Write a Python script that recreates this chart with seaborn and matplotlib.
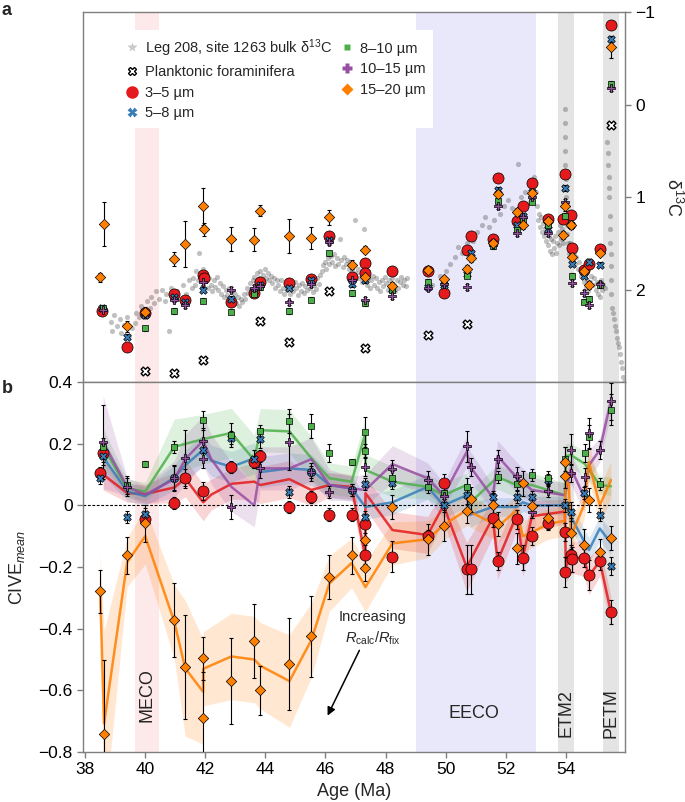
import numpy as np
import pandas as pd
import seaborn as sns
import matplotlib.pyplot as plt
from matplotlib.lines import Line2D

# ---------------- bulk d13C, Leg 208 site 1263 (age, d13C) ----------------
bulk_pts = [
    (38.85, 2.35), (38.9, 2.45), (38.95, 2.28), (39.05, 2.4), (39.15, 2.32), (39.2, 2.47), (39.3, 2.38),
    (39.4, 2.3), (39.45, 2.5), (39.55, 2.42), (39.65, 2.36), (39.7, 2.25), (39.8, 2.3), (39.85, 2.18),
    (39.9, 2.22), (40.0, 2.27), (40.05, 2.12), (40.15, 2.2), (40.2, 2.08), (40.3, 2.15), (40.35, 2.02),
    (40.45, 2.1), (40.55, 2.0), (40.65, 2.12), (40.7, 2.05), (40.8, 2.45), (40.85, 1.98), (40.95, 2.08),
    (41.05, 2.02), (41.15, 2.1), (41.25, 1.95), (41.35, 2.05), (41.45, 1.9), (41.55, 1.98), (41.6, 1.88),
    (41.65, 1.95), (41.7, 1.8), (41.75, 1.9), (41.8, 1.6), (41.82, 1.85), (41.88, 1.97), (41.92, 1.78),
    (41.97, 1.9), (42.02, 1.84), (42.08, 1.98), (42.12, 1.88), (42.18, 1.95), (42.22, 2.02), (42.28, 1.9),
    (42.32, 1.97), (42.38, 1.86), (42.42, 2.0), (42.48, 1.93), (42.52, 2.05), (42.58, 1.96), (42.62, 2.08),
    (42.68, 2.0), (42.72, 2.06), (42.78, 1.98), (42.82, 2.1), (42.88, 2.02), (42.92, 2.12), (42.98, 2.05),
    (43.02, 2.15), (43.08, 2.08), (43.12, 2.18), (43.18, 2.1), (43.22, 2.14), (43.28, 2.05), (43.32, 2.1),
    (43.38, 1.98), (43.42, 2.04), (43.48, 1.93), (43.52, 1.99), (43.58, 1.9), (43.62, 1.86), (43.68, 1.92),
    (43.72, 1.82), (43.78, 1.88), (43.82, 1.8), (43.88, 1.9), (43.92, 1.84), (43.98, 1.78), (44.02, 1.88),
    (44.08, 1.82), (44.12, 1.9), (44.18, 1.85), (44.22, 1.93), (44.28, 1.88), (44.32, 1.98), (44.38, 1.9),
    (44.42, 1.95), (44.48, 2.02), (44.52, 1.9), (44.58, 1.98), (44.62, 2.05), (44.68, 1.93), (44.72, 2.0),
    (44.78, 1.9), (44.82, 2.05), (44.88, 1.96), (44.92, 2.02), (44.98, 1.92), (45.02, 1.98), (45.08, 2.06),
    (45.12, 1.95), (45.18, 2.02), (45.22, 1.93), (45.28, 2.04), (45.32, 1.96), (45.38, 2.0), (45.42, 1.9),
    (45.48, 1.98), (45.52, 1.92), (45.58, 2.03), (45.62, 1.95), (45.68, 1.99), (45.72, 1.88), (45.78, 1.94),
    (45.82, 1.84), (45.88, 1.8), (45.92, 1.74), (45.98, 1.7), (46.02, 1.78), (46.08, 1.66), (46.12, 1.72),
    (46.18, 1.64), (46.22, 1.7), (46.28, 1.62), (46.32, 1.75), (46.38, 1.66), (46.42, 1.72), (46.48, 1.45),
    (46.52, 1.68), (46.58, 1.76), (46.62, 1.65), (46.68, 1.72), (46.72, 1.68), (46.78, 1.78), (46.82, 1.7),
    (46.88, 1.8), (46.92, 1.74), (46.98, 1.25), (47.02, 1.82), (47.08, 1.78), (47.12, 1.88), (47.18, 1.82),
    (47.22, 1.92), (47.28, 1.35), (47.32, 1.86), (47.38, 1.95), (47.42, 1.88), (47.48, 1.98), (47.52, 1.9),
    (47.58, 1.85), (47.62, 1.95), (47.68, 1.88), (47.72, 1.98), (47.78, 1.92), (47.82, 2.02), (47.88, 1.9),
    (47.92, 1.96), (47.98, 1.86), (48.02, 1.93), (48.08, 2.0), (48.12, 1.9), (48.18, 1.97), (48.22, 1.88),
    (48.28, 1.95), (48.32, 2.02), (48.38, 1.9), (48.42, 1.98), (48.48, 1.92), (48.52, 1.86), (48.58, 1.95),
    (48.62, 1.9), (48.68, 1.96), (48.72, 1.88), (49.55, 1.95), (49.8, 1.85), (50.0, 1.8), (50.15, 1.72),
    (50.3, 1.65), (50.4, 1.54), (50.55, 1.6), (50.7, 1.5), (50.9, 1.48), (51.05, 1.38), (51.2, 1.3),
    (51.3, 1.22), (51.45, 1.32), (51.6, 1.25), (51.8, 1.18), (51.95, 1.1), (52.07, 1.03), (52.2, 1.12),
    (52.4, 0.64), (52.5, 1.0), (52.65, 0.95), (52.8, 1.05), (52.93, 0.78), (53.0, 0.95), (53.03, 1.1),
    (53.07, 1.25), (53.1, 1.18), (53.13, 1.32), (53.17, 1.22), (53.2, 1.38), (53.23, 1.28), (53.27, 1.42),
    (53.3, 1.33), (53.33, 1.48), (53.37, 1.38), (53.4, 1.52), (53.43, 1.42), (53.47, 1.58), (53.5, 1.45),
    (53.53, 1.62), (53.57, 1.48), (53.6, 1.55), (53.63, 1.42), (53.67, 1.6), (53.7, 1.5), (53.73, 1.38),
    (53.77, 1.52), (53.8, 1.3), (53.83, 1.45), (53.87, 1.35), (53.9, 1.5), (53.96, 0.05), (53.97, 0.2),
    (53.97, 0.35), (53.98, 0.5), (53.98, 0.65), (53.99, 0.8), (54.0, 0.9), (54.0, 1.0), (54.01, 1.1),
    (54.02, 1.2), (54.03, 1.3), (54.05, 1.4), (54.07, 1.5), (54.1, 1.6), (54.13, 1.5), (54.17, 1.62),
    (54.2, 1.55), (54.23, 1.68), (54.27, 1.6), (54.3, 1.72), (54.35, 1.65), (54.4, 1.78), (54.45, 1.7),
    (54.5, 1.85), (54.55, 1.78), (54.6, 1.92), (54.63, 1.85), (54.67, 1.98), (54.7, 1.9), (54.75, 2.02),
    (54.8, 1.92), (54.85, 1.85), (54.9, 1.95), (54.95, 1.88), (55.0, 2.0), (55.03, 1.92), (55.07, 2.05),
    (55.1, 1.95), (55.13, 2.08), (55.17, 1.9), (55.2, 2.0), (55.25, 1.95), (55.3, 1.98), (55.38, 0.4),
    (55.4, 0.52), (55.42, 0.65), (55.43, 0.78), (55.44, 0.9), (55.45, 1.0), (55.46, 1.2), (55.47, 1.35),
    (55.48, 1.5), (55.49, 1.62), (55.5, 1.75), (55.51, 1.9), (55.52, 2.05), (55.54, 2.2), (55.57, 2.25),
    (55.6, 2.32), (55.63, 2.4), (55.66, 2.45), (55.7, 2.52), (55.73, 2.58), (55.76, 2.62), (55.8, 2.7),
    (55.83, 2.78), (55.86, 2.85), (55.9, 2.95), (55.93, 3.0),
]

# ---------------- panel a: coccolith d13C per size fraction ----------------
a_red_age = [38.55, 39.4, 40.0, 40.97, 41.33, 41.93, 41.95, 42.87, 43.63, 43.83, 44.8, 45.53, 46.13, 46.87,
             47.33, 47.33, 48.23, 49.4, 49.93, 50.7, 50.83, 51.57, 51.73, 52.37, 52.57, 52.87, 53.4, 53.9,
             53.97, 54.17, 54.2, 54.6, 54.77, 55.13, 55.5]
a_red_val = [2.23, 2.62, 2.25, 2.05, 2.11, 1.84, 1.88, 2.14, 2.04, 1.92, 1.93, 1.89, 1.42, 1.87, 1.71, 1.82,
             1.80, 1.80, 2.04, 1.57, 1.42, 1.45, 0.79, 1.26, 1.10, 0.85, 1.24, 1.24, 0.75, 1.19, 1.55, 1.79,
             1.72, 1.56, -0.86]

a_blue_age = [38.55, 39.4, 40.0, 40.97, 41.33, 41.93, 42.87, 43.63, 43.83, 44.8, 45.53, 46.13, 46.87, 47.33,
              48.23, 49.4, 49.93, 50.7, 50.83, 51.57, 51.73, 52.37, 52.57, 52.87, 53.4, 53.97, 54.17, 54.2,
              54.6, 54.77, 55.13, 55.5]
a_blue_val = [2.20, 2.51, 2.28, 2.08, 2.13, 2.00, 2.10, 2.02, 1.95, 1.98, 1.90, 1.47, 1.94, 1.90, 1.99, 1.97,
              1.95, 1.83, 1.60, 1.50, 0.92, 1.30, 1.20, 0.95, 1.35, 0.90, 1.30, 1.72, 1.85, 1.70, 1.73, -0.71]

a_green_age = [38.6, 40.0, 40.97, 41.93, 42.87, 43.63, 43.83, 44.8, 45.53, 46.13, 46.87, 47.33, 48.23, 49.4,
               49.93, 50.7, 51.57, 51.73, 52.37, 52.57, 52.87, 53.4, 53.97, 54.17, 54.2, 54.6, 54.77, 55.13,
               55.5]
a_green_val = [2.20, 2.42, 2.23, 2.12, 2.24, 2.05, 1.97, 2.23, 2.11, 1.61, 2.04, 2.15, 2.00, 1.92, 1.93, 1.85,
               1.53, 1.04, 1.36, 1.25, 1.05, 1.30, 1.20, 1.30, 1.85, 2.13, 2.10, 1.95, -0.22]

a_purple_age = [38.6, 40.0, 40.97, 41.33, 41.93, 42.87, 43.63, 43.83, 44.8, 45.53, 46.13, 46.87, 47.33, 48.23,
                49.4, 49.93, 50.7, 51.57, 51.73, 52.37, 52.57, 52.87, 53.4, 53.97, 54.2, 54.6, 54.77, 55.13,
                55.5]
a_purple_val = [2.22, 2.26, 2.11, 2.17, 1.92, 2.00, 1.98, 1.96, 2.14, 1.94, 1.49, 1.90, 2.11, 2.07, 1.98, 1.94,
                1.97, 1.52, 1.10, 1.39, 1.22, 1.00, 1.39, 1.05, 1.93, 2.04, 2.17, 1.94, -0.18]

a_orange_age = [38.5, 38.63, 39.4, 40.0, 40.97, 41.33, 41.93, 41.95, 42.87, 43.63, 43.83, 44.8, 45.53, 46.13,
                46.87, 47.33, 47.33, 48.23, 49.4, 49.93, 50.7, 50.83, 51.57, 51.73, 52.37, 52.57, 52.87, 53.4,
                53.9, 53.97, 54.17, 54.2, 54.6, 54.77, 55.13, 55.5]
a_orange_val = [1.87, 1.29, 2.40, 2.24, 1.67, 1.51, 1.10, 1.35, 1.45, 1.46, 1.15, 1.42, 1.44, 1.22, 1.73, 1.57,
                1.86, 1.96, 1.79, 1.89, 1.78, 1.66, 1.50, 0.97, 1.16, 1.30, 0.96, 1.26, 1.41, 1.10, 1.30, 1.65,
                1.80, 1.95, 1.60, -0.62]
a_orange_err = [0.05, 0.24, 0.06, 0.05, 0.08, 0.25, 0.20, 0.07, 0.13, 0.12, 0.06, 0.18, 0.12, 0.08, 0.05, 0.04,
                0.04, 0.04, 0.04, 0.04, 0.04, 0.04, 0.04, 0.05, 0.04, 0.05, 0.04, 0.04, 0.04, 0.05, 0.05, 0.04,
                0.04, 0.04, 0.04, 0.12]
a_small_err = 0.03

foram_age = [40.0, 40.97, 41.93, 43.83, 44.8, 46.13, 47.33, 49.4, 50.7, 55.5]
foram_val = [2.88, 2.90, 2.76, 2.34, 2.57, 2.02, 2.63, 2.49, 2.37, 0.22]

# ---------------- panel b: CIVE_mean samples ----------------
b_red_age = [38.5, 38.6, 40.0, 40.97, 41.33, 41.93, 42.87, 43.63, 43.83, 44.8, 45.53, 46.13, 46.87, 47.33, 47.33,
             48.23, 49.4, 49.93, 50.7, 50.83, 51.57, 51.73, 52.37, 52.57, 52.87, 53.4, 53.97, 53.97, 54.17, 54.2,
             54.6, 54.77, 55.13, 55.5]
b_red_val = [0.105, 0.17, -0.045, 0.007, 0.088, 0.047, 0.124, 0.14, 0.16, -0.005, 0.027, -0.03, -0.03, -0.06,
             -0.16, -0.167, -0.10, 0.072, -0.207, -0.207, -0.04, -0.18, -0.045, -0.17, -0.10, -0.057, -0.087,
             -0.216, -0.16, -0.175, -0.17, -0.226, -0.18, -0.346]
b_red_err = [0.02, 0.03, 0.02, 0.02, 0.03, 0.03, 0.02, 0.02, 0.02, 0.02, 0.02, 0.02, 0.02, 0.03, 0.03, 0.05,
             0.02, 0.03, 0.08, 0.08, 0.03, 0.03, 0.03, 0.04, 0.03, 0.02, 0.03, 0.05, 0.03, 0.04, 0.03, 0.05,
             0.03, 0.04]

b_blue_age = [38.5, 38.6, 39.4, 40.0, 40.97, 41.93, 42.87, 43.63, 43.83, 44.8, 45.53, 46.87, 47.33, 47.33, 48.23,
              49.93, 50.7, 51.57, 52.37, 52.87, 53.4, 53.97, 54.17, 54.6, 55.13, 55.5]
b_blue_val = [0.088, 0.16, -0.038, -0.028, 0.088, 0.18, 0.22, 0.15, 0.215, 0.044, 0.108, 0.05, 0.07, -0.037,
              0.072, 0.0, 0.033, 0.027, 0.027, 0.027, 0.082, 0.0, -0.02, 0.04, -0.03, -0.197]
b_blue_err = [0.02, 0.03, 0.02, 0.02, 0.04, 0.03, 0.02, 0.03, 0.03, 0.02, 0.02, 0.02, 0.02, 0.02, 0.02, 0.02,
              0.03, 0.02, 0.02, 0.02, 0.02, 0.02, 0.03, 0.02, 0.02, 0.03]

b_green_age = [38.6, 39.4, 40.0, 40.97, 41.93, 42.87, 43.83, 44.8, 45.53, 46.13, 46.87, 47.33, 47.33, 48.23,
               49.4, 49.93, 50.7, 51.73, 52.37, 52.87, 53.4, 53.97, 54.63, 54.77, 55.13, 55.5]
b_green_val = [0.19, 0.066, 0.134, 0.19, 0.276, 0.228, 0.24, 0.274, 0.258, 0.17, 0.14, 0.238, 0.178, 0.09, 0.06,
               0.04, 0.06, 0.092, 0.07, 0.098, 0.09, 0.15, 0.17, 0.222, 0.07, 0.31]
b_green_err = [0.03, 0.03, 0.01, 0.02, 0.03, 0.04, 0.02, 0.04, 0.04, 0.03, 0.01, 0.05, 0.02, 0.02, 0.02, 0.02,
               0.03, 0.02, 0.02, 0.02, 0.02, 0.04, 0.03, 0.04, 0.02, 0.05]

b_purple_age = [38.6, 39.4, 40.97, 41.33, 41.93, 41.93, 42.87, 43.83, 44.8, 45.53, 46.13, 46.87, 47.33, 48.23,
                49.4, 49.93, 50.7, 50.83, 51.73, 52.37, 52.87, 53.4, 54.17, 54.17, 54.63, 54.77, 55.13, 55.5]
b_purple_val = [0.205, 0.06, 0.09, 0.153, 0.21, 0.15, -0.005, 0.12, 0.205, 0.108, 0.044, 0.05, 0.125, 0.118,
                0.082, 0.03, 0.192, 0.124, 0.15, 0.095, -0.02, 0.047, 0.18, 0.105, 0.092, 0.235, 0.18, 0.338]
b_purple_err = [0.12, 0.03, 0.04, 0.09, 0.04, 0.03, 0.04, 0.03, 0.09, 0.03, 0.02, 0.02, 0.03, 0.03, 0.03, 0.02,
                0.05, 0.03, 0.03, 0.03, 0.02, 0.02, 0.05, 0.03, 0.03, 0.05, 0.03, 0.06]

b_orange_age = [38.5, 38.63, 39.4, 40.0, 40.97, 41.33, 41.93, 41.93, 42.87, 43.63, 43.83, 44.8, 45.53, 46.13,
                46.87, 47.33, 47.33, 48.23, 49.4, 49.93, 50.7, 50.83, 51.57, 51.73, 52.37, 52.57, 52.87, 53.4,
                53.97, 53.97, 54.17, 54.6, 54.77, 55.13, 55.5]
b_orange_val = [-0.278, -0.742, -0.161, -0.058, -0.372, -0.524, -0.496, -0.69, -0.57, -0.44, -0.60, -0.515,
                -0.425, -0.232, -0.162, -0.112, -0.204, -0.005, -0.11, -0.066, -0.017, 0.02, 0.0, -0.06, -0.139,
                0.072, -0.002, -0.04, 0.14, 0.095, -0.09, -0.128, 0.017, -0.15, -0.106]
b_orange_err = [0.07, 0.24, 0.06, 0.06, 0.12, 0.17, 0.07, 0.15, 0.14, 0.12, 0.08, 0.15, 0.13, 0.07, 0.06, 0.04,
                0.04, 0.04, 0.05, 0.05, 0.04, 0.04, 0.04, 0.04, 0.05, 0.04, 0.04, 0.04, 0.05, 0.04, 0.05, 0.05,
                0.04, 0.04, 0.04]

# ---------------- panel b: mean lines and envelopes ----------------
red_line_age = [38.6, 39.4, 40.0, 40.97, 41.33, 41.93, 42.2, 42.87, 43.63, 43.83, 44.8, 45.53, 46.13, 46.87,
                47.33, 47.33, 48.23, 49.4, 49.93, 50.7, 51.57, 51.73, 52.37, 52.57, 52.87, 53.97, 54.0, 54.17,
                54.6, 54.77, 55.13, 55.5]
red_line_val = [0.10, 0.04, 0.037, 0.058, 0.088, 0.01, 0.035, 0.07, 0.077, 0.066, 0.085, 0.05, 0.066, 0.06,
                -0.17, 0.04, -0.08, -0.096, 0.0, -0.20, -0.04, -0.18, -0.03, -0.17, -0.035, -0.02, -0.20, -0.17,
                -0.17, -0.23, -0.18, -0.346]
red_band = [0.05, 0.03, 0.03, 0.05, 0.06, 0.06, 0.05, 0.05, 0.06, 0.06, 0.06, 0.05, 0.04, 0.04, 0.05, 0.05,
            0.06, 0.06, 0.05, 0.08, 0.06, 0.06, 0.05, 0.06, 0.05, 0.04, 0.05, 0.05, 0.06, 0.06, 0.05, 0.05]

blue_line_age = [38.6, 39.4, 40.0, 40.97, 41.33, 41.93, 42.2, 42.87, 43.63, 43.83, 44.8, 45.53, 46.13, 46.87,
                 47.33, 48.23, 49.4, 49.93, 50.7, 50.83, 51.57, 52.37, 52.57, 52.87, 53.97, 54.17, 54.77, 55.13,
                 55.5]
blue_line_val = [0.157, 0.045, 0.03, 0.09, 0.13, 0.18, 0.145, 0.125, 0.153, 0.108, 0.12, 0.115, 0.066, 0.055,
                 -0.005, 0.01, 0.06, 0.0, 0.033, -0.03, -0.005, -0.005, 0.01, 0.0, 0.0, -0.037, -0.145, -0.075,
                 -0.122]
blue_band = [0.06, 0.03, 0.03, 0.04, 0.05, 0.05, 0.05, 0.05, 0.05, 0.05, 0.05, 0.05, 0.04, 0.04, 0.04, 0.04,
             0.04, 0.04, 0.04, 0.04, 0.03, 0.03, 0.03, 0.03, 0.03, 0.04, 0.04, 0.04, 0.04]

green_line_age = [38.6, 39.4, 40.0, 40.97, 41.93, 42.87, 43.63, 43.83, 44.8, 45.53, 46.13, 46.87, 47.33, 47.33,
                  48.23, 49.4, 49.93, 50.7, 50.83, 51.73, 52.37, 52.87, 53.97, 54.0, 54.17, 54.63, 55.13, 55.5]
green_line_val = [0.19, 0.055, 0.045, 0.19, 0.215, 0.235, 0.147, 0.244, 0.24, 0.153, 0.088, 0.077, 0.235, 0.115,
                  0.077, 0.06, 0.033, 0.066, 0.01, 0.092, 0.066, 0.066, 0.033, 0.16, 0.163, 0.135, 0.066, 0.062]
green_band = [0.06, 0.03, 0.03, 0.09, 0.08, 0.08, 0.08, 0.07, 0.07, 0.07, 0.05, 0.05, 0.05, 0.05, 0.05, 0.04,
              0.04, 0.04, 0.04, 0.04, 0.04, 0.04, 0.04, 0.04, 0.04, 0.04, 0.03, 0.03]

purple_line_age = [38.6, 39.4, 40.0, 40.97, 41.33, 41.93, 42.2, 42.87, 43.63, 43.83, 44.8, 45.53, 46.13, 46.87,
                   47.33, 48.23, 49.4, 49.93, 50.7, 50.83, 51.57, 51.73, 52.37, 52.87, 53.97, 54.17, 54.6, 54.77,
                   55.13, 55.5]
purple_line_val = [0.205, 0.06, 0.035, 0.085, 0.15, 0.21, 0.15, 0.06, 0.0, 0.12, 0.12, 0.15, 0.066, 0.055, 0.05,
                   0.134, 0.088, 0.033, 0.173, 0.124, 0.025, 0.16, 0.09, 0.05, 0.033, 0.12, 0.03, 0.13, 0.18,
                   0.338]
purple_band = [0.15, 0.03, 0.03, 0.06, 0.08, 0.08, 0.08, 0.08, 0.07, 0.07, 0.07, 0.07, 0.05, 0.04, 0.05, 0.06,
               0.05, 0.04, 0.05, 0.05, 0.04, 0.05, 0.05, 0.04, 0.04, 0.05, 0.05, 0.05, 0.04, 0.04]

orange_line_age = [38.5, 38.63, 39.4, 40.0, 40.97, 41.33, 41.93, 41.93, 42.87, 43.63, 43.83, 44.8, 45.53, 46.13,
                   46.87, 47.33, 48.23, 49.4, 49.93, 50.7, 51.57, 51.73, 52.37, 52.57, 52.87, 53.4, 53.97, 54.0,
                   54.1, 54.17, 54.6, 54.77, 55.13, 55.5]
orange_line_val = [-0.275, -0.707, -0.184, -0.10, -0.378, -0.528, -0.605, -0.53, -0.49, -0.50, -0.52, -0.57,
                   -0.437, -0.253, -0.187, -0.265, -0.123, -0.11, -0.064, -0.015, -0.058, -0.07, -0.015, -0.10,
                   -0.088, -0.06, -0.05, 0.072, 0.072, -0.10, 0.0, 0.14, 0.0, 0.082]
orange_band = [0.12, 0.30, 0.08, 0.09, 0.12, 0.22, 0.17, 0.12, 0.14, 0.14, 0.14, 0.15, 0.12, 0.09, 0.08, 0.08,
               0.07, 0.06, 0.05, 0.05, 0.05, 0.05, 0.05, 0.05, 0.05, 0.05, 0.05, 0.05, 0.05, 0.05, 0.05, 0.06,
               0.06, 0.06]

# event intervals (Ma)
meco = (39.67, 40.47)
eeco = (49.0, 53.0)
etm2 = (53.73, 54.27)
petm = (55.23, 55.77)

RED, BLUE, GREEN, PURPLE, ORANGE = '#e41a1c', '#377eb8', '#4daf4a', '#984ea3', '#ff7f00'
SPINE = '#7f7f7f'

sns.set_style('ticks')
plt.rcParams['font.family'] = ['Liberation Sans', 'DejaVu Sans']
plt.rcParams['mathtext.fontset'] = 'custom'
plt.rcParams['mathtext.rm'] = 'Liberation Sans'
plt.rcParams['mathtext.it'] = 'Liberation Sans:italic'
plt.rcParams['mathtext.bf'] = 'Liberation Sans:bold'

fig = plt.figure(figsize=(6.85, 8.02), dpi=100)
axa = fig.add_axes([0.1212, 0.5237, 0.7912, 0.4613])
axb = fig.add_axes([0.1212, 0.0623, 0.7912, 0.4613])

for ax in (axa, axb):
    ax.axvspan(*meco, color='#fde9e9', lw=0, zorder=0)
    ax.axvspan(*eeco, color='#e8e8fa', lw=0, zorder=0)
    ax.axvspan(*etm2, color='#e4e4e4', lw=0, zorder=0)
    ax.axvspan(*petm, color='#e4e4e4', lw=0, zorder=0)
    ax.set_xlim(37.93, 55.97)
    for sp in ax.spines.values():
        sp.set_color(SPINE)
        sp.set_linewidth(1.0)
    ax.tick_params(colors=SPINE, labelcolor='k', labelsize=12.5, length=4, width=1, direction='out')

# ---- panel a ----
bulk = pd.DataFrame(bulk_pts, columns=['age', 'd13c'])
sns.scatterplot(data=bulk, x='age', y='d13c', marker='o', s=14, color='#333333', alpha=0.3,
                linewidth=0, ax=axa, zorder=1)

ekw = dict(fmt='none', ecolor='k', elinewidth=0.8, capsize=1.5, capthick=0.8, zorder=3)
top_sets = [
    (a_red_age, a_red_val, None, RED, 'o', 64),
    (a_blue_age, a_blue_val, None, BLUE, 'X', 30),
    (a_green_age, a_green_val, None, GREEN, 's', 16),
    (a_purple_age, a_purple_val, None, PURPLE, 'P', 30),
    (a_orange_age, a_orange_val, a_orange_err, ORANGE, 'D', 28),
]
for ages, vals, errs, col, mk, sz in top_sets:
    axa.errorbar(ages, vals, yerr=errs if errs is not None else a_small_err, **ekw)
    sns.scatterplot(x=ages, y=vals, marker=mk, s=sz, color=col, edgecolor='k', linewidth=0.5,
                    ax=axa, zorder=4)
sns.scatterplot(x=foram_age, y=foram_val, marker='X', s=40, color='white', edgecolor='k',
                linewidth=1.0, ax=axa, zorder=4)

axa.set_ylim(3.0, -1.0)
axa.set_yticks([-1, 0, 1, 2])
axa.yaxis.tick_right()
axa.yaxis.set_label_position('right')
axa.set_ylabel(r'δ$^{13}$C', rotation=270, fontsize=13, labelpad=20)
axa.set_xlabel('')
axa.tick_params(axis='x', bottom=False, labelbottom=False)
axa.tick_params(axis='y', left=False, labelleft=False)

handles = [
    Line2D([], [], ls='none', marker='*', ms=7, color='#c9c9c9', mec='none'),
    Line2D([], [], ls='none', marker='X', ms=6, mfc='white', mec='k', mew=1.0),
    Line2D([], [], ls='none', marker='o', ms=9, mfc=RED, mec='none'),
    Line2D([], [], ls='none', marker='X', ms=6.5, mfc=BLUE, mec='none'),
    Line2D([], [], ls='none', marker='s', ms=5, mfc=GREEN, mec='none'),
    Line2D([], [], ls='none', marker='P', ms=7, mfc=PURPLE, mec='none'),
    Line2D([], [], ls='none', marker='D', ms=6.5, mfc=ORANGE, mec='none'),
]
labels = [r'Leg 208, site 1263 bulk δ$^{13}$C', 'Planktonic foraminifera', '3–5 µm', '5–8 µm',
          '8–10 µm', '10–15 µm', '15–20 µm']
leg = axa.legend(handles, labels, loc='upper left', bbox_to_anchor=(0.05, 0.972), ncol=2,
                 fontsize=10.5, frameon=True, framealpha=1, edgecolor='none', facecolor='white',
                 fancybox=False, handlelength=1.0, handletextpad=0.4, columnspacing=0.5,
                 labelspacing=0.45, borderpad=0.5)
leg.set_zorder(5)

# ---- panel b ----
lines = [
    (red_line_age, red_line_val, red_band, RED),
    (blue_line_age, blue_line_val, blue_band, BLUE),
    (green_line_age, green_line_val, green_band, GREEN),
    (purple_line_age, purple_line_val, purple_band, PURPLE),
    (orange_line_age, orange_line_val, orange_band, ORANGE),
]
for ages, vals, band, col in lines:
    v = np.array(vals)
    b = np.array(band)
    axb.fill_between(ages, v - b, v + b, color=col, alpha=0.18, lw=0, zorder=1)
for ages, vals, band, col in lines:
    sns.lineplot(x=ages, y=vals, sort=False, estimator=None, color=col, lw=1.8, alpha=0.85,
                 ax=axb, zorder=2)

axb.axhline(0, color='k', lw=0.8, ls=(0, (2.5, 1.5)), zorder=2.5)

bot_sets = [
    (b_red_age, b_red_val, b_red_err, RED, 'o', 64),
    (b_blue_age, b_blue_val, b_blue_err, BLUE, 'X', 30),
    (b_green_age, b_green_val, b_green_err, GREEN, 's', 16),
    (b_purple_age, b_purple_val, b_purple_err, PURPLE, 'P', 30),
    (b_orange_age, b_orange_val, b_orange_err, ORANGE, 'D', 28),
]
for ages, vals, errs, col, mk, sz in bot_sets:
    axb.errorbar(ages, vals, yerr=errs, **ekw)
    sns.scatterplot(x=ages, y=vals, marker=mk, s=sz, color=col, edgecolor='k', linewidth=0.5,
                    ax=axb, zorder=4)

axb.set_ylim(-0.8, 0.4)
axb.set_yticks([-0.8, -0.6, -0.4, -0.2, 0, 0.2, 0.4])
axb.set_yticklabels(['−0.8', '−0.6', '−0.4', '−0.2', '0', '0.2', '0.4'])
axb.set_xticks(range(38, 55, 2))
axb.set_xlabel('Age (Ma)', fontsize=13)
axb.set_ylabel(r'CIVE$_{mean}$', fontsize=13, labelpad=8)

axb.text(40.07, -0.615, 'MECO', rotation=90, ha='center', va='center', fontsize=13)
axb.text(50.95, -0.675, 'EECO', ha='center', va='center', fontsize=13)
axb.text(54.0, -0.675, 'ETM2', rotation=90, ha='center', va='center', fontsize=13)
axb.text(55.5, -0.675, 'PETM', rotation=90, ha='center', va='center', fontsize=13)
axb.text(47.57, -0.362, 'Increasing', ha='center', va='center', fontsize=10.5)
axb.text(47.57, -0.43, r'$R_{\mathrm{calc}}/R_{\mathrm{fix}}$', ha='center', va='center', fontsize=10.5)
axb.annotate('', xy=(46.03, -0.69), xytext=(47.17, -0.462),
             arrowprops=dict(arrowstyle='-|>', color='k', lw=1.1, mutation_scale=12))

fig.text(0.002, 0.997, 'a', fontsize=13, fontweight='bold', va='top', ha='left')
fig.text(0.002, 0.516, 'b', fontsize=13, fontweight='bold', va='center', ha='left')

fig.savefig('out.png', dpi=100)
